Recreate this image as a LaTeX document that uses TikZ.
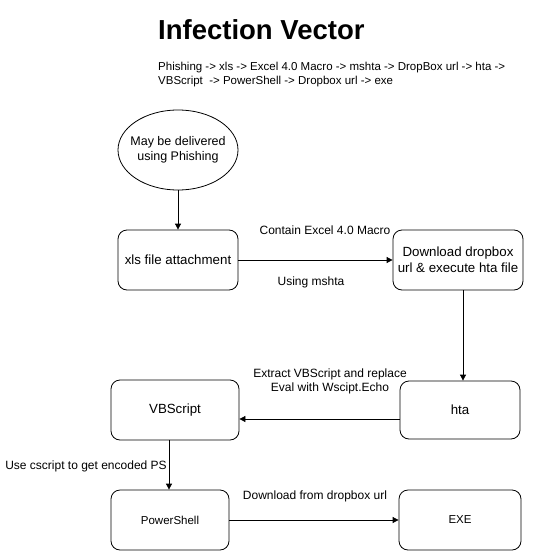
\documentclass[tikz,border=0pt]{standalone}
\usepackage{fontspec}
\setmainfont{Liberation Sans}
\usetikzlibrary{arrows.meta,shapes.geometric}
\begin{document}
\begin{tikzpicture}[x=1pt,y=-1pt,
  box/.style={draw,rounded corners=9pt,line width=0.8pt,align=center,inner sep=0pt},
  conn/.style={draw,line width=0.8pt,-{Triangle[length=6pt,width=6pt]}},
  lbl/.style={font=\fontsize{12}{14}\selectfont,align=center,inner sep=0pt}]
\useasboundingbox (0,0) rectangle (534,551);
\node[anchor=west,font=\bfseries\fontsize{27.5}{30}\selectfont,inner sep=0pt] (title) at (158,30) {Infection Vector};
\node[anchor=north west,font=\fontsize{11.5}{14}\selectfont,align=left,inner sep=0pt] (sub) at (158,62)
  {Phishing -> xls -> Excel 4.0 Macro -> mshta -> DropBox url -> hta ->\\VBScript \ -> PowerShell -> Dropbox url -> exe};
\node[draw,ellipse,line width=0.8pt,inner xsep=-6pt,inner ysep=0pt,minimum width=120pt,minimum height=80pt,align=center,font=\fontsize{12.5}{15}\selectfont] (phish) at (178,150) {May be delivered\\using Phishing};
\node[box,minimum width=120pt,minimum height=60pt,font=\fontsize{13.3}{16}\selectfont] (xls) at (178,260) {xls file attachment};
\node[box,minimum width=130pt,minimum height=60pt,font=\fontsize{13.3}{16}\selectfont] (dl) at (458,260) {Download dropbox\\url \& execute hta file};
\node[box,minimum width=120pt,minimum height=58pt,font=\fontsize{13.3}{16}\selectfont] (hta) at (460,410) {hta};
\node[box,minimum width=128pt,minimum height=60pt,font=\fontsize{13.3}{16}\selectfont] (vbs) at (175,410) {VBScript};
\node[box,minimum width=118pt,minimum height=60pt,font=\fontsize{11.5}{14}\selectfont] (ps) at (170,520) {PowerShell};
\node[box,minimum width=122pt,minimum height=60pt,font=\fontsize{11.5}{14}\selectfont] (exe) at (460,520) {EXE};
\draw[conn] (phish) -- (xls);
\draw[conn] (xls) -- (dl);
\draw[conn] (dl.south -| 463,0) -- (hta.north -| 463,0);
\draw[conn] (hta.west |- 0,419) -- (vbs.east |- 0,419);
\draw[conn] (vbs.south -| 169,0) -- (ps.north -| 169,0);
\draw[conn] (ps) -- (exe);
\node[lbl] (l1) at (325,230) {Contain Excel 4.0 Macro};
\node[lbl] (l2) at (311,282) {Using mshta};
\node[lbl] (l3) at (330,381) {Extract VBScript and replace\\Eval with Wscipt.Echo};
\node[lbl] (l4) at (86,466) {Use cscript to get encoded PS};
\node[lbl] (l5) at (315,496) {Download from dropbox url};
\end{tikzpicture}
\end{document}
